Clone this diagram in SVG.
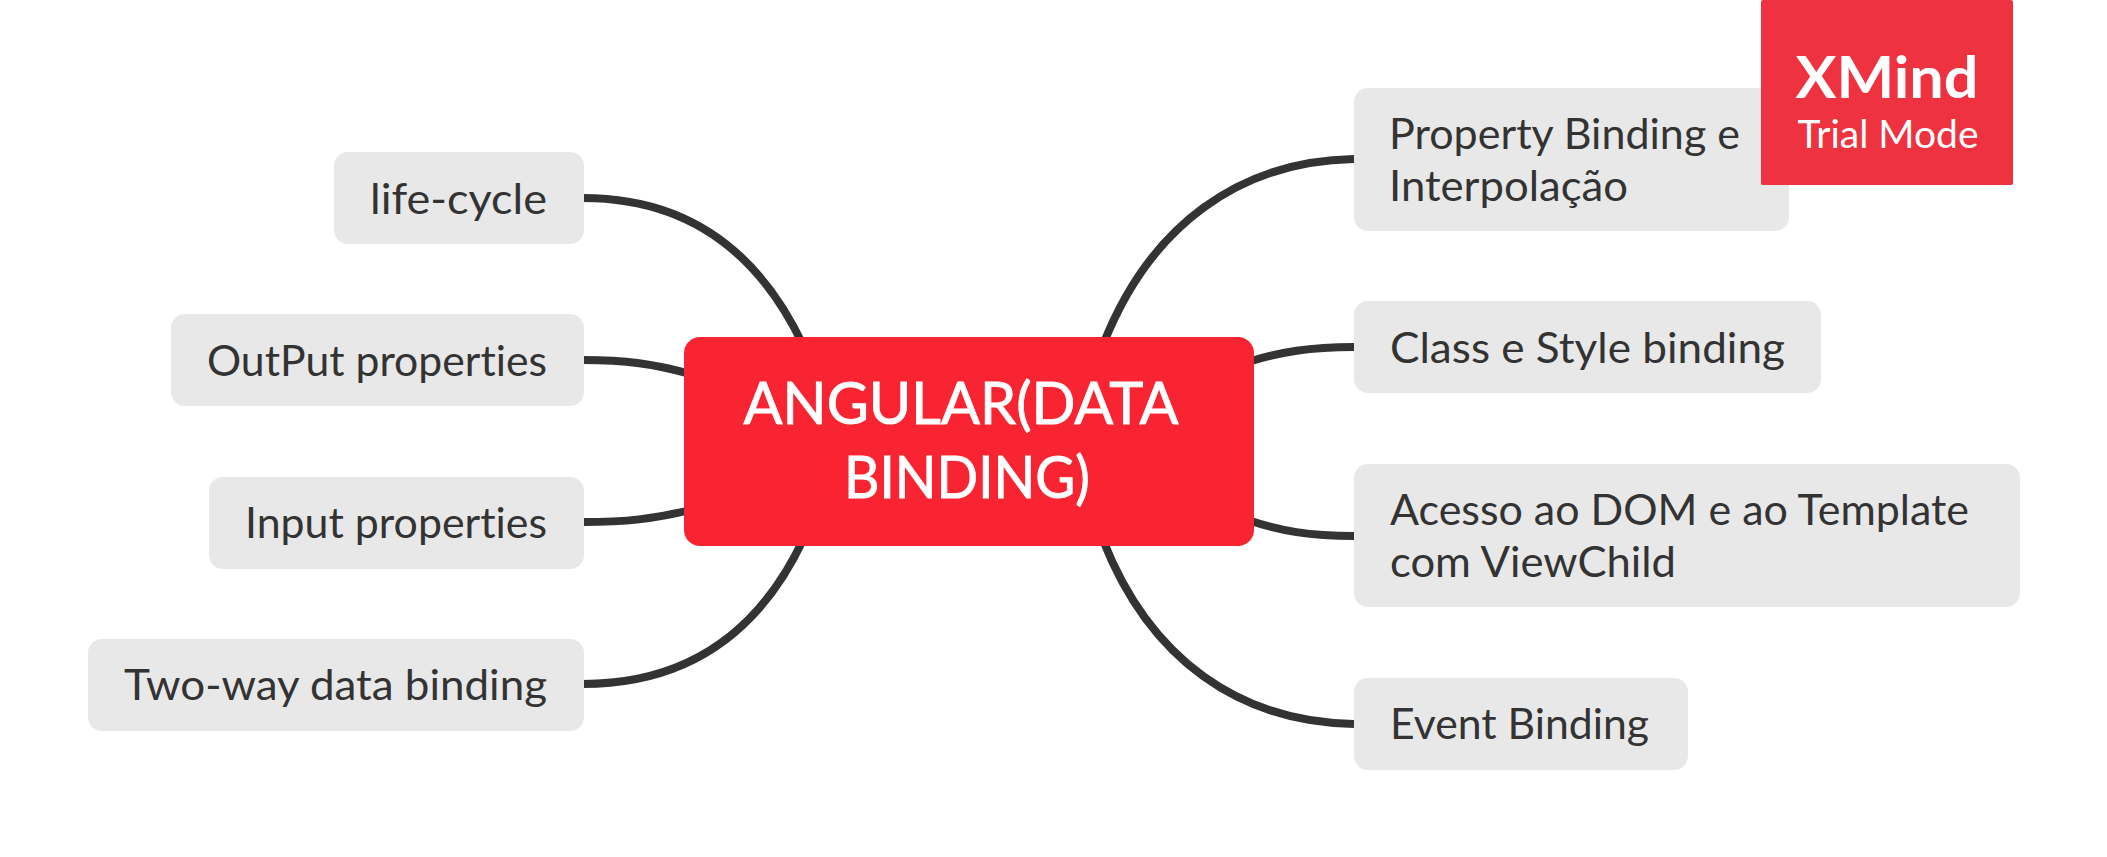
<svg xmlns="http://www.w3.org/2000/svg" width="2107" height="857" viewBox="0 0 2107 857">
<style>
text{font-family:"Lato","Noto Sans",sans-serif;font-variant-ligatures:none}
.n{fill:#e8e8e8}
.t{font-size:42px;fill:#333}
.l{text-anchor:end}
.c{fill:none;stroke:#333;stroke-width:8}
.m{font-size:58px;fill:#fff;stroke:#fff;stroke-width:.9px;text-anchor:middle}
</style>
<rect width="2107" height="857" fill="#fff"/>
<g id="connectors">
<path class="c" d="M583 198C700 198 765 265 803 345"/>
<path class="c" d="M583 360C625 360 655 364 690 374"/>
<path class="c" d="M583 522C625 522 655 519 690 510"/>
<path class="c" d="M583 684C700 684 765 620 803 540"/>
<path class="c" d="M1354 159C1240 161 1150 225 1103 345"/>
<path class="c" d="M1354 347C1310 347 1280 352 1248 362"/>
<path class="c" d="M1354 536C1310 536 1280 531 1248 520"/>
<path class="c" d="M1354 724C1240 722 1150 660 1103 540"/>
</g>
<g id="center"><rect x="684" y="337" width="570" height="209" rx="16" fill="#f92431"/>
<text class="m" x="961" y="424" textLength="435" lengthAdjust="spacingAndGlyphs">ANGULAR(DATA</text><text class="m" x="967" y="498" textLength="246" lengthAdjust="spacingAndGlyphs">BINDING)</text></g>
<g id="life-cycle"><rect class="n" x="334" y="152" width="250" height="92" rx="14"/><text class="t l" x="547" y="214" textLength="177" lengthAdjust="spacingAndGlyphs">life-cycle</text></g>
<g id="output"><rect class="n" x="171" y="314" width="413" height="92" rx="14"/><text class="t l" x="547" y="376" textLength="340" lengthAdjust="spacingAndGlyphs">OutPut properties</text></g>
<g id="input"><rect class="n" x="209" y="477" width="375" height="92" rx="14"/><text class="t l" x="547" y="538" textLength="302" lengthAdjust="spacingAndGlyphs">Input properties</text></g>
<g id="two-way"><rect class="n" x="88" y="639" width="496" height="92" rx="14"/><text class="t l" x="547" y="700" textLength="423" lengthAdjust="spacingAndGlyphs">Two-way data binding</text></g>
<g id="property"><rect class="n" x="1354" y="88" width="435" height="143" rx="14"/><text class="t" x="1389" y="149" textLength="351" lengthAdjust="spacingAndGlyphs">Property Binding e</text><text class="t" x="1389" y="201" textLength="239" lengthAdjust="spacingAndGlyphs">Interpolação</text></g>
<g id="class"><rect class="n" x="1354" y="301" width="467" height="92" rx="14"/><text class="t" x="1390" y="363" textLength="395" lengthAdjust="spacingAndGlyphs">Class e Style binding</text></g>
<g id="acesso"><rect class="n" x="1354" y="464" width="666" height="143" rx="14"/><text class="t" x="1390" y="525" textLength="579" lengthAdjust="spacingAndGlyphs">Acesso ao DOM e ao Template</text><text class="t" x="1390" y="577" textLength="286" lengthAdjust="spacingAndGlyphs">com ViewChild</text></g>
<g id="event"><rect class="n" x="1354" y="678" width="334" height="92" rx="14"/><text class="t" x="1390" y="739" textLength="259" lengthAdjust="spacingAndGlyphs">Event Binding</text></g>
<g id="watermark"><rect x="1761" y="0" width="252" height="185" rx="2" fill="#ee3240"/>
<text x="1887" y="98" font-size="58" font-weight="700" fill="#fff" text-anchor="middle" textLength="183" lengthAdjust="spacingAndGlyphs">XMind</text>
<text x="1888" y="148" font-size="38" fill="#fff" text-anchor="middle" textLength="181" lengthAdjust="spacingAndGlyphs">Trial Mode</text></g>
</svg>
